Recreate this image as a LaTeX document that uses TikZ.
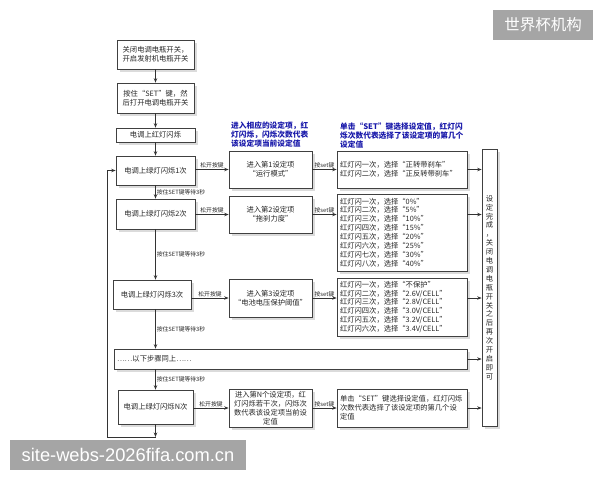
\documentclass[tikz,border=0pt]{standalone}
\usepackage{fontspec}
\setmainfont{Noto Sans CJK SC}
\newfontfamily\wmfont{Liberation Sans}
\usetikzlibrary{arrows.meta,shadows}
\definecolor{hdblue}{RGB}{25,25,170}
\definecolor{wmgray}{RGB}{165,165,165}
\XeTeXlinebreaklocale "zh"
\begin{document}
\begin{tikzpicture}[x=1pt,y=-1pt,
    every node/.style={font=\fontsize{7.3}{8.9}\selectfont, text=black!85},
    box/.style={draw=black!75, line width=0.7pt, fill=white, inner sep=0pt, align=center,
      drop shadow={shadow xshift=2.5pt,shadow yshift=-2.5pt,fill=black!14,opacity=1}},
    rbox/.style={box, align=left, inner xsep=3pt},
    arr/.style={draw=black!80, line width=0.7pt, -{Stealth[length=4.5pt,width=3.5pt]}},
    lbl/.style={font=\fontsize{5.8}{6}\selectfont, inner sep=1pt},
    head/.style={font=\fontsize{7.7}{8.7}\selectfont\bfseries, text=hdblue, align=left, anchor=north west, inner sep=0pt}]
    \useasboundingbox (0,0) rectangle (600,480);
    % left column
    \node[box, minimum width=77, minimum height=29] (close) at (155.5,54.5) {关闭电调电瓶开关，\\开启发射机电瓶开关};
    \node[box, minimum width=77, minimum height=30] (set) at (155.5,98) {按住“SET”键，然\\后打开电调电瓶开关};
    \node[box, minimum width=79, minimum height=14] (red) at (155.5,135) {电调上红灯闪烁};
    \node[box, minimum width=79, minimum height=29] (g1) at (155.5,170.5) {电调上绿灯闪烁1次};
    \node[box, minimum width=79, minimum height=30] (g2) at (155.5,214) {电调上绿灯闪烁2次};
    \node[box, minimum width=78, minimum height=29] (g3) at (152,294.5) {电调上绿灯闪烁3次};
    \node[rbox, text width=347, minimum height=20] (same) at (290.5,359) {……以下步骤同上……};
    \node[box, minimum width=75, minimum height=34] (gN) at (155.5,407) {电调上绿灯闪烁N次};
    % middle column
    \node[head] (hint1) at (231,122) {进入相应的设定项，红\\灯闪烁，闪烁次数代表\\该设定项当前设定值};
    \node[box, minimum width=83, minimum height=37] (m1) at (270.5,169.5) {进入第1设定项\\“运行模式”};
    \node[box, minimum width=83, minimum height=37] (m2) at (270.5,214.5) {进入第2设定项\\“拖刹力度”};
    \node[box, minimum width=83, minimum height=38] (m3) at (270.5,298) {进入第3设定项\\“电池电压保护阈值”};
    \node[box, minimum width=83, minimum height=38] (mN) at (270.5,408) {进入第N个设定项，红\\灯闪烁若干次，闪烁次\\数代表该设定项当前设\\定值};
    % right column
    \node[head] (hint2) at (340,123) {单击“SET”键选择设定值，红灯闪\\烁次数代表选择了该设定项的第几个\\设定值};
    \node[rbox, text width=124, minimum height=37] (r1) at (402,169.5) {红灯闪一次，选择“正转带刹车”\\红灯闪二次，选择“正反转带刹车”};
    \node[rbox, text width=124, minimum height=77] (r2) at (402,232.5) {红灯闪一次，选择“0\%”\\红灯闪二次，选择“5\%”\\红灯闪三次，选择“10\%”\\红灯闪四次，选择“15\%”\\红灯闪五次，选择“20\%”\\红灯闪六次，选择“25\%”\\红灯闪七次，选择“30\%”\\红灯闪八次，选择“40\%”};
    \node[rbox, text width=124, minimum height=58] (r3) at (402,307) {红灯闪一次，选择“不保护”\\红灯闪二次，选择“2.6V/CELL”\\红灯闪三次，选择“2.8V/CELL”\\红灯闪四次，选择“3.0V/CELL”\\红灯闪五次，选择“3.2V/CELL”\\红灯闪六次，选择“3.4V/CELL”};
    \node[rbox, text width=124, minimum height=38] (rN) at (402,408) {单击“SET”键选择设定值，红灯闪烁\\次数代表选择了该设定项的第几个设\\定值};
    \node[box, minimum width=15, minimum height=277] (done) at (489.5,287.5) {设\\定\\完\\成\\，\\关\\闭\\电\\调\\电\\瓶\\开\\关\\之\\后\\再\\次\\开\\启\\即\\可};
    % main chain
    \draw[arr] (close.south) -- (set.north);
    \draw[arr] (set.south) -- (red.north);
    \draw[arr] (red.south) -- (g1.north);
    \draw[arr] (g1.south) -- (g2.north) node[midway, right, lbl] {按住SET键等待3秒};
    \draw[arr] (g2.south) -- (g2.south |- g3.north) node[midway, right, lbl] {按住SET键等待3秒};
    \draw[arr] (g3.south -| g2.south) -- (same.north -| g2.south) node[midway, right, lbl] {按住SET键等待3秒};
    \draw[arr] (same.south -| gN.north) -- (gN.north) node[midway, right, lbl] {按住SET键等待3秒};
    \coordinate (tail) at (155.5,437);
    \coordinate (back) at (107,437);
    \draw[arr] (gN.south) -- (tail);
    \draw[arr] (tail) -- (back) |- (g1.west);
    % release key
    \draw[arr] (g1.east |- m1.west) -- (m1.west) node[midway, above, lbl] {松开按键};
    \draw[arr] (g2.east |- m2.west) -- (m2.west) node[midway, above, lbl] {松开按键};
    \draw[arr] (g3.east |- m3.west) -- (m3.west) node[midway, above, lbl] {松开按键};
    \draw[arr] (gN.east |- mN.west) -- (mN.west) node[midway, above, lbl] {松开按键};
    % press set
    \draw[arr] (m1.east) -- (m1.east -| r1.west) node[midway, above, lbl] {按set键};
    \draw[arr] (m2.east) -- (m2.east -| r2.west) node[midway, above, lbl] {按set键};
    \draw[arr] (m3.east) -- (m3.east -| r3.west) node[midway, above, lbl] {按set键};
    \draw[arr] (mN.east) -- (mN.east -| rN.west) node[midway, above, lbl] {按set键};
    % to the end
    \draw[arr] (m1 -| r1.east) -- (m1 -| done.west);
    \draw[arr] (m2 -| r2.east) -- (m2 -| done.west);
    \draw[arr] (m3 -| r3.east) -- (m3 -| done.west);
    \draw[arr] (same.east) -- (same.east -| done.west);
    \draw[arr] (mN -| rN.east) -- (mN -| done.west);
    % watermarks
    \node[fill=wmgray, text=white, minimum width=100, minimum height=30, inner sep=0pt, font=\fontsize{15.5}{16}\selectfont] (wmtop) at (543,25) {世界杯机构};
    \node[fill=wmgray, text=white, minimum width=236, minimum height=30, inner sep=0pt, font=\wmfont\fontsize{18.3}{19}\selectfont] (wmbot) at (128,455) {site-webs-2026fifa.com.cn};
\end{tikzpicture}
\end{document}
